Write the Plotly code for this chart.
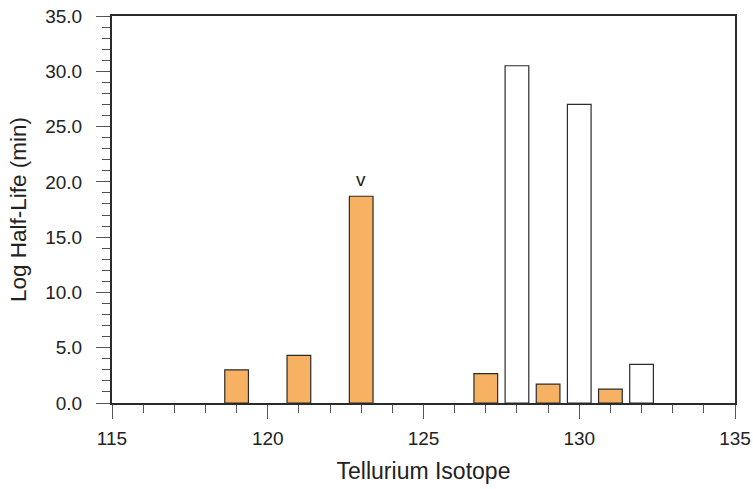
import plotly.graph_objects as go

# Tellurium isotopes: log half-life (min)
radio_isotopes = [119, 121, 123, 127, 129, 131]
radio_values = [3.0, 4.3, 18.7, 2.65, 1.7, 1.25]

stable_isotopes = [128, 130, 132]
stable_values = [30.5, 27.0, 3.5]

labelled_isotope = 123
labelled_text = "v"

x_ticks = [115, 120, 125, 130, 135]
y_ticks = [0, 5, 10, 15, 20, 25, 30, 35]

font_family = "Liberation Sans, Arial, Helvetica, sans-serif"
edge = "#2b2b2b"
text_color = "#222222"

fig = go.Figure()
fig.add_trace(go.Bar(
    x=radio_isotopes, y=radio_values, width=0.76,
    marker=dict(color="#f6b162", line=dict(color=edge, width=1.2)),
    showlegend=False,
))
fig.add_trace(go.Bar(
    x=stable_isotopes, y=stable_values, width=0.76,
    marker=dict(color="white", line=dict(color=edge, width=1.2)),
    showlegend=False,
))

label_y = radio_values[radio_isotopes.index(labelled_isotope)]
fig.add_annotation(
    x=labelled_isotope, y=label_y, text=labelled_text, showarrow=False,
    yanchor="bottom", yshift=4, font=dict(size=19, color=text_color, family=font_family),
)

axis_common = dict(
    showline=True, linecolor=edge, linewidth=2, mirror=True,
    ticks="outside", tickcolor="#555", tickwidth=1,
    showgrid=False, zeroline=False, automargin=False,
    tickfont=dict(size=19, color=text_color, family=font_family),
)

fig.update_xaxes(
    range=[115, 135], tickvals=x_ticks, ticklen=14, ticklabelstandoff=3,
    minor=dict(dtick=1, tick0=115, ticks="outside", ticklen=8, tickcolor="#555", showgrid=False),
    title=dict(text="Tellurium Isotope", font=dict(size=23, color=text_color, family=font_family), standoff=15),
    **axis_common,
)
fig.update_yaxes(
    range=[0, 35], tickvals=y_ticks, tickformat=".1f", ticklen=14, ticklabelstandoff=10,
    minor=dict(dtick=1, tick0=0, ticks="outside", ticklen=8, tickcolor="#555", showgrid=False),
    title=dict(text="Log Half-Life (min)", font=dict(size=22.5, color=text_color, family=font_family), standoff=12),
    **axis_common,
)

fig.update_layout(
    width=753, height=489,
    margin=dict(l=112, r=18, t=16, b=86),
    barmode="overlay",
    plot_bgcolor="white", paper_bgcolor="white",
    font=dict(family=font_family),
)

fig.write_html("out.html")
